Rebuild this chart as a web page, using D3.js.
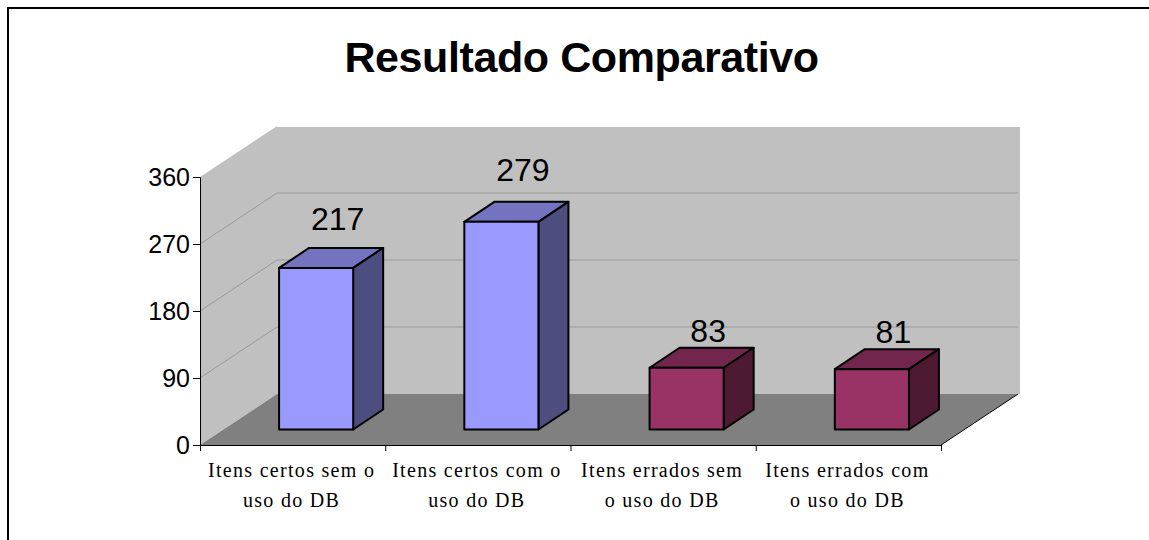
<!DOCTYPE html>
<html>
<head>
<meta charset="utf-8">
<script src="https://cdn.jsdelivr.net/npm/d3@7"></script>
<style>
  html, body { margin: 0; padding: 0; background: #fff; }
  svg { display: block; }
</style>
</head>
<body>
<div id="chart"></div>
<script>
// Chart data
const categories = [
  ["Itens certos sem o", "uso do DB"],
  ["Itens certos com o", "uso do DB"],
  ["Itens errados sem", "o uso do DB"],
  ["Itens errados com", "o uso do DB"]
];
const values = [217, 279, 83, 81];
const yTicks = [0, 90, 180, 270, 360];
const chartTitle = "Resultado Comparativo";

// Face colours per bar: front, top, side
const barColors = [
  { front: "#9999ff", top: "#7373bf", side: "#4d4d80" },
  { front: "#9999ff", top: "#7373bf", side: "#4d4d80" },
  { front: "#993366", top: "#73264d", side: "#4d1933" },
  { front: "#993366", top: "#73264d", side: "#4d1933" }
];

const width = 1149, height = 540;
const plot = { left: 200, right: 941, top: 177, bottom: 445 };
const wallDepth = { x: 77, y: 51 };  // depth of the 3D box
const barDepth = { x: 30, y: 20 };   // depth of each bar

const svg = d3.select("#chart").append("svg")
  .attr("width", width)
  .attr("height", height);

// Outer frame, only top and left edges are in the picture
svg.append("path")
  .attr("d", `M8,${height}V8H${width}`)
  .attr("fill", "none")
  .attr("stroke", "#000")
  .attr("stroke-width", 2);

// Scales
const xScale = d3.scaleBand()
  .domain(d3.range(categories.length))
  .range([plot.left, plot.right]);
const yScale = d3.scaleLinear()
  .domain([0, 360])
  .range([plot.bottom, plot.top]);
const tickScale = d3.scaleLinear()
  .domain([0, categories.length])
  .range([plot.left, plot.right]);
// Taller bars have their label further above the top
const labelGap = d3.scaleLinear()
  .domain([81, 217, 279])
  .range([26, 38, 41]);

const points = p => p.map(d => d.join(",")).join(" ");

// Back wall
svg.append("polygon")
  .attr("points", points([
    [plot.left + wallDepth.x, yScale(0) - wallDepth.y],
    [plot.right + wallDepth.x + 2, yScale(0) - wallDepth.y],
    [plot.right + wallDepth.x + 2, yScale(360) - wallDepth.y + 1],
    [plot.left + wallDepth.x, yScale(360) - wallDepth.y + 1]
  ]))
  .attr("fill", "#c0c0c0");

// Side wall
svg.append("polygon")
  .attr("points", points([
    [plot.left, yScale(0)],
    [plot.left + wallDepth.x, yScale(0) - wallDepth.y],
    [plot.left + wallDepth.x, yScale(360) - wallDepth.y],
    [plot.left, yScale(360)]
  ]))
  .attr("fill", "#c0c0c0");

// Floor
svg.append("polygon")
  .attr("points", points([
    [plot.left, yScale(0)],
    [plot.right, yScale(0)],
    [plot.right + wallDepth.x, yScale(0) - wallDepth.y],
    [plot.left + wallDepth.x, yScale(0) - wallDepth.y]
  ]))
  .attr("fill", "#808080");

// Gridlines on both walls
const gridValues = yTicks.filter(d => d > 0 && d < 360);
svg.selectAll(".grid")
  .data(gridValues)
  .enter().append("polyline")
  .attr("class", "grid")
  .attr("points", d => points([
    [plot.left, yScale(d)],
    [plot.left + wallDepth.x, yScale(d) - wallDepth.y],
    [plot.right + wallDepth.x, yScale(d) - wallDepth.y]
  ]))
  .attr("fill", "none")
  .attr("stroke", "#999")
  .attr("stroke-width", 1);

// Floor front right edge
svg.append("line")
  .attr("x1", plot.right)
  .attr("y1", yScale(0))
  .attr("x2", plot.right + wallDepth.x)
  .attr("y2", yScale(0) - wallDepth.y)
  .attr("stroke", "#000")
  .attr("stroke-width", 1);

// Bars
const barWidth = xScale.bandwidth() * 0.4;
const barInset = { x: (wallDepth.x - barDepth.x) / 2, y: (wallDepth.y - barDepth.y) / 2 };
const barLeft = i => xScale(i) + (xScale.bandwidth() - barWidth) / 2 + barInset.x;
const barBase = () => yScale(0) - barInset.y;
const barTop = d => barBase() - (yScale(0) - yScale(d));

const bars = svg.selectAll(".bar")
  .data(values)
  .enter().append("g")
  .attr("class", "bar")
  .attr("stroke", "#000")
  .attr("stroke-width", 2)
  .attr("stroke-linejoin", "round");

bars.append("polygon")
  .attr("fill", (d, i) => barColors[i].top)
  .attr("points", (d, i) => points([
    [barLeft(i), barTop(d)],
    [barLeft(i) + barWidth, barTop(d)],
    [barLeft(i) + barWidth + barDepth.x, barTop(d) - barDepth.y],
    [barLeft(i) + barDepth.x, barTop(d) - barDepth.y]
  ]));

bars.append("polygon")
  .attr("fill", (d, i) => barColors[i].side)
  .attr("points", (d, i) => points([
    [barLeft(i) + barWidth, barTop(d)],
    [barLeft(i) + barWidth + barDepth.x, barTop(d) - barDepth.y],
    [barLeft(i) + barWidth + barDepth.x, barBase() - barDepth.y],
    [barLeft(i) + barWidth, barBase()]
  ]));

bars.append("rect")
  .attr("fill", (d, i) => barColors[i].front)
  .attr("x", (d, i) => barLeft(i))
  .attr("y", d => barTop(d))
  .attr("width", barWidth)
  .attr("height", d => barBase() - barTop(d));

// Value labels
svg.selectAll(".value-label")
  .data(values)
  .enter().append("text")
  .attr("class", "value-label")
  .attr("x", (d, i) => barLeft(i) + (barWidth + barDepth.x) / 2 + 6.5)
  .attr("y", d => barTop(d) - labelGap(d))
  .attr("text-anchor", "middle")
  .style("font-family", "'Liberation Sans', Arial, sans-serif")
  .style("font-size", "32px")
  .style("fill", "#000")
  .text(d => d);

// Y axis
const yAxis = d3.axisLeft(yScale).tickValues(yTicks).tickSize(7).tickPadding(3);
const yAxisG = svg.append("g")
  .attr("class", "y-axis")
  .attr("transform", `translate(${plot.left},0)`)
  .call(yAxis);
yAxisG.selectAll("text")
  .style("font-family", "'Liberation Sans', Arial, sans-serif")
  .style("font-size", "25px")
  .style("fill", "#000");

// X axis, ticks sit on the band edges
const xAxis = d3.axisBottom(tickScale)
  .tickValues(d3.range(categories.length + 1))
  .tickSize(6)
  .tickFormat("");
svg.append("g")
  .attr("class", "x-axis")
  .attr("transform", `translate(0,${plot.bottom})`)
  .call(xAxis);

// Category labels, two lines each
const catLabels = svg.selectAll(".cat-label")
  .data(categories)
  .enter().append("text")
  .attr("class", "cat-label")
  .attr("text-anchor", "middle")
  .style("font-family", "'Liberation Serif', 'Times New Roman', serif")
  .style("font-size", "20px")
  .style("letter-spacing", "1.3px")
  .style("fill", "#000");
catLabels.selectAll("tspan")
  .data((d, i) => d.map(line => ({ line, i })))
  .enter().append("tspan")
  .attr("x", d => xScale(d.i) + xScale.bandwidth() / 2 - 1)
  .attr("y", (d, j) => plot.bottom + 32 + j * 30)
  .text(d => d.line);

// Title
svg.append("text")
  .attr("x", 581.5)
  .attr("y", 71.5)
  .attr("text-anchor", "middle")
  .style("font-family", "'Liberation Sans', Arial, sans-serif")
  .style("font-size", "43px")
  .style("letter-spacing", "-0.4px")
  .style("font-weight", "bold")
  .style("fill", "#000")
  .text(chartTitle);
</script>
</body>
</html>
